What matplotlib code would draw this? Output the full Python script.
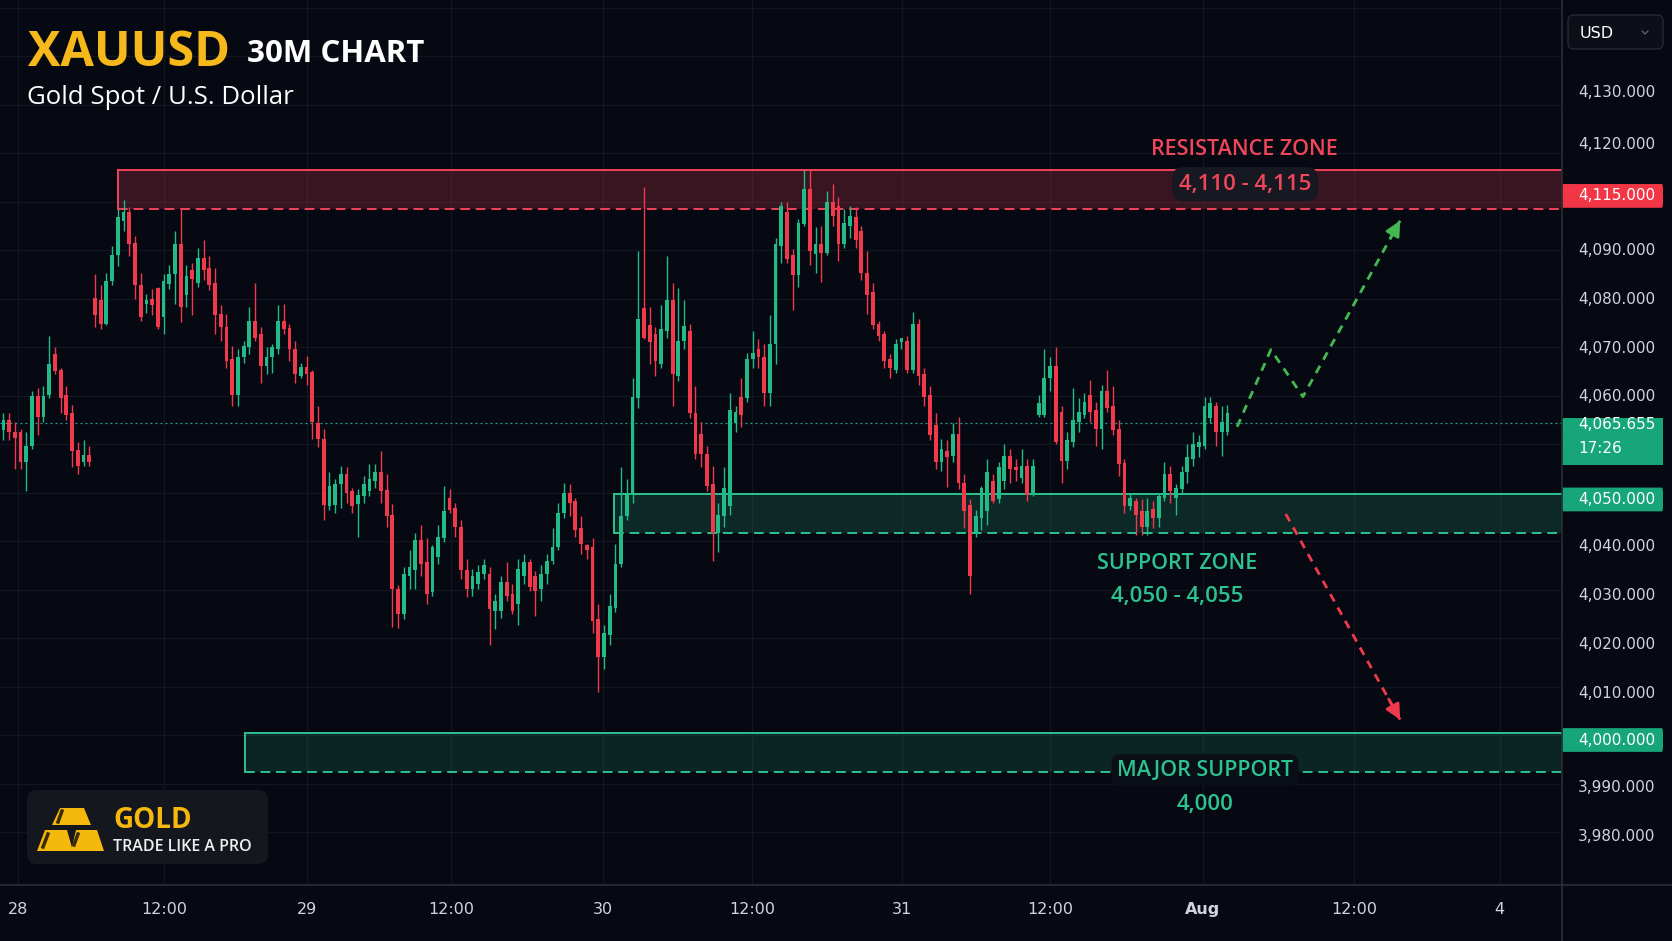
import matplotlib
matplotlib.use("Agg")
import matplotlib.pyplot as plt
from matplotlib.patches import Rectangle, FancyBboxPatch, Polygon

# ---------------- data ----------------
opens = [4063.9, 4065.9, 4063.5, 4063.5, 4057.3, 4060.7, 4070.9, 4066.7, 4071.2, 4079.6, 4076.4, 4071.2, 4067.4, 4059.9, 4057.3, 4058.7,
         4091.1, 4090.7, 4085.8, 4094.6, 4100.1, 4107.0, 4108.8, 4102.5, 4093.9, 4090.0, 4091.0, 4093.2, 4087.2, 4094.0, 4096.0, 4102.2,
         4091.7, 4097.0, 4094.2, 4099.4, 4097.3, 4094.2, 4087.9, 4085.1, 4078.5, 4071.2, 4079.0, 4081.0, 4086.4, 4083.7, 4077.1, 4078.9,
         4080.6, 4086.5, 4084.9, 4080.6, 4075.0, 4076.9, 4075.9, 4065.3, 4062.1, 4048.2, 4048.5, 4052.7, 4054.8, 4051.3, 4048.6, 4050.3,
         4051.3, 4053.4, 4055.2, 4051.6, 4046.5, 4031.1, 4025.9, 4033.9, 4035.0, 4041.2, 4036.7, 4030.5, 4037.7, 4041.6, 4050.0, 4047.9,
         4044.0, 4035.0, 4031.1, 4032.2, 4034.2, 4034.2, 4026.6, 4026.6, 4032.5, 4030.1, 4028.0, 4033.9, 4036.7, 4033.9, 4031.1, 4034.2,
         4037.0, 4039.8, 4046.8, 4051.0, 4049.2, 4043.7, 4040.2, 4039.8, 4024.9, 4017.2, 4021.7, 4027.3, 4036.3, 4046.1, 4050.6, 4070.5,
         4089.0, 4085.5, 4083.7, 4077.5, 4084.4, 4090.7, 4075.0, 4082.3, 4084.4, 4067.4, 4063.2, 4059.0, 4052.7, 4042.6, 4046.1, 4048.2,
         4065.3, 4070.8, 4070.5, 4078.5, 4080.6, 4078.9, 4071.5, 4081.6, 4101.8, 4108.8, 4100.0, 4095.9, 4106.4, 4113.7, 4100.2, 4102.2,
         4100.5, 4110.9, 4110.2, 4102.2, 4106.0, 4107.8, 4105.0, 4096.3, 4092.4, 4085.8, 4083.7, 4078.5, 4076.4, 4082.0, 4082.3, 4076.4,
         4085.8, 4075.4, 4071.2, 4064.9, 4057.3, 4059.7, 4058.6, 4063.2, 4053.1, 4048.5, 4042.9, 4045.8, 4047.2, 4053.4, 4049.6, 4053.4,
         4058.6, 4056.4, 4054.1, 4056.6, 4050.6, 4067.0, 4067.0, 4074.7, 4077.1, 4067.7, 4057.6, 4061.4, 4065.6, 4067.0, 4071.2, 4068.0,
         4064.2, 4071.9, 4068.8, 4064.2, 4057.2, 4048.2, 4049.2, 4047.2, 4044.0, 4047.6, 4045.7, 4050.0, 4054.8, 4049.9, 4051.7, 4055.2,
         4058.0, 4060.4, 4060.7, 4066.3, 4068.8, 4063.5, 4063.5]
highs = [4067.4, 4067.4, 4065.6, 4064.2, 4063.5, 4071.9, 4072.6, 4073.0, 4083.4, 4081.0, 4076.8, 4073.0, 4069.1, 4061.5, 4061.8, 4060.7,
         4096.0, 4093.9, 4096.3, 4101.9, 4109.5, 4111.3, 4109.9, 4104.0, 4096.3, 4092.0, 4093.0, 4093.5, 4096.0, 4098.0, 4105.0, 4109.5,
         4098.0, 4098.4, 4101.5, 4103.2, 4099.8, 4097.3, 4089.7, 4087.9, 4081.3, 4080.6, 4082.3, 4089.3, 4094.2, 4085.1, 4081.0, 4081.6,
         4089.7, 4090.0, 4085.8, 4082.3, 4077.8, 4079.2, 4076.4, 4068.8, 4064.2, 4055.2, 4053.8, 4056.6, 4056.2, 4052.0, 4051.7, 4054.5,
         4056.9, 4056.9, 4059.5, 4054.8, 4048.6, 4032.0, 4035.7, 4039.1, 4042.6, 4044.4, 4041.6, 4040.2, 4044.4, 4052.4, 4051.7, 4048.9,
         4045.4, 4037.4, 4035.3, 4036.0, 4037.4, 4035.6, 4030.1, 4033.9, 4036.7, 4032.2, 4037.4, 4038.4, 4037.4, 4034.9, 4036.0, 4038.4,
         4043.7, 4048.9, 4053.1, 4052.7, 4050.0, 4046.1, 4040.5, 4041.6, 4028.0, 4023.8, 4030.1, 4040.5, 4056.2, 4053.8, 4074.7, 4100.8,
         4114.0, 4089.3, 4085.1, 4089.7, 4099.8, 4094.2, 4093.2, 4090.7, 4085.8, 4073.0, 4065.6, 4060.7, 4056.6, 4048.9, 4056.2, 4071.5,
         4068.8, 4074.7, 4079.9, 4084.4, 4082.7, 4081.6, 4087.6, 4103.6, 4111.0, 4110.9, 4101.2, 4107.4, 4117.5, 4117.5, 4105.7, 4106.0,
         4113.3, 4114.7, 4111.9, 4109.5, 4110.2, 4109.9, 4106.0, 4100.8, 4094.2, 4086.5, 4084.4, 4079.6, 4082.7, 4083.0, 4083.4, 4088.2,
         4086.9, 4076.8, 4073.0, 4067.4, 4062.1, 4061.8, 4065.3, 4066.7, 4054.8, 4049.6, 4047.5, 4052.4, 4058.0, 4054.8, 4057.3, 4061.1,
         4060.0, 4058.0, 4060.0, 4058.0, 4058.0, 4071.2, 4080.6, 4078.9, 4081.0, 4068.8, 4063.5, 4072.6, 4070.5, 4071.5, 4074.3, 4069.8,
         4073.3, 4076.4, 4073.0, 4066.0, 4058.0, 4051.0, 4050.0, 4049.6, 4050.0, 4049.2, 4051.0, 4057.3, 4056.6, 4052.7, 4056.6, 4061.1,
         4063.5, 4062.8, 4070.8, 4070.8, 4069.8, 4068.8, 4069.1]
lows = [4061.8, 4061.8, 4055.9, 4055.9, 4051.4, 4060.0, 4062.8, 4065.6, 4070.5, 4075.4, 4067.4, 4066.0, 4056.2, 4054.8, 4056.6, 4056.6,
        4085.1, 4084.8, 4085.5, 4093.9, 4097.7, 4105.0, 4099.8, 4091.0, 4086.5, 4088.0, 4087.6, 4084.8, 4083.7, 4093.0, 4090.0, 4086.2,
        4089.3, 4087.6, 4093.5, 4094.9, 4092.8, 4083.7, 4082.3, 4076.8, 4068.8, 4068.8, 4077.8, 4079.6, 4082.3, 4073.6, 4075.4, 4075.7,
        4079.6, 4083.7, 4078.2, 4073.6, 4074.7, 4073.3, 4062.1, 4060.4, 4045.4, 4047.5, 4046.8, 4047.8, 4048.9, 4046.8, 4041.9, 4048.9,
        4050.3, 4052.0, 4048.9, 4044.0, 4023.4, 4023.1, 4024.9, 4031.1, 4031.1, 4033.9, 4028.0, 4029.7, 4036.3, 4040.9, 4046.8, 4041.9,
        4033.2, 4029.4, 4029.7, 4031.1, 4033.2, 4019.6, 4022.8, 4025.2, 4028.7, 4025.9, 4023.8, 4032.2, 4030.8, 4025.6, 4028.7, 4032.2,
        4036.3, 4039.1, 4045.8, 4046.1, 4041.9, 4038.4, 4037.4, 4022.1, 4009.9, 4014.7, 4019.6, 4026.3, 4035.6, 4045.4, 4048.9, 4068.4,
        4082.7, 4077.5, 4075.0, 4076.8, 4083.0, 4068.8, 4074.0, 4080.6, 4066.3, 4058.0, 4056.2, 4051.3, 4037.0, 4038.8, 4044.0, 4046.5,
        4063.5, 4064.6, 4069.8, 4076.8, 4076.8, 4068.8, 4068.8, 4077.5, 4098.4, 4098.4, 4088.6, 4093.5, 4106.0, 4098.0, 4096.3, 4094.5,
        4100.0, 4106.0, 4098.7, 4101.5, 4103.6, 4101.5, 4094.9, 4087.9, 4084.8, 4082.3, 4076.8, 4074.7, 4075.7, 4080.6, 4075.7, 4075.7,
        4073.3, 4068.8, 4061.8, 4055.9, 4055.5, 4052.1, 4057.3, 4051.7, 4043.7, 4030.1, 4041.9, 4043.3, 4044.4, 4048.9, 4048.9, 4051.7,
        4053.1, 4053.4, 4053.1, 4049.2, 4050.3, 4066.7, 4066.7, 4071.9, 4061.1, 4053.1, 4055.9, 4060.4, 4063.5, 4066.3, 4065.6, 4060.7,
        4060.0, 4067.7, 4062.8, 4054.5, 4046.8, 4047.5, 4042.3, 4042.3, 4042.3, 4043.7, 4044.0, 4049.2, 4048.9, 4046.5, 4051.0, 4053.1,
        4056.6, 4058.3, 4060.0, 4065.3, 4060.7, 4058.6, 4062.8]
closes = [4066.0, 4063.5, 4062.2, 4057.3, 4060.7, 4070.9, 4066.7, 4070.9, 4077.5, 4076.1, 4070.5, 4067.0, 4059.7, 4056.6, 4058.8, 4057.4,
          4087.6, 4085.8, 4094.6, 4100.1, 4107.8, 4108.8, 4102.2, 4093.9, 4087.2, 4090.7, 4089.7, 4085.1, 4094.6, 4096.0, 4102.2, 4089.3,
          4095.6, 4095.0, 4099.4, 4097.0, 4093.9, 4087.6, 4085.1, 4078.2, 4071.2, 4078.9, 4081.3, 4086.5, 4082.9, 4077.1, 4078.9, 4081.0,
          4086.5, 4084.8, 4080.6, 4075.4, 4076.9, 4075.5, 4065.6, 4062.1, 4048.5, 4052.4, 4052.7, 4054.8, 4051.0, 4048.2, 4050.6, 4052.7,
          4053.8, 4055.2, 4051.3, 4046.1, 4031.1, 4025.9, 4034.2, 4035.6, 4041.2, 4036.3, 4030.1, 4039.8, 4041.9, 4047.2, 4047.5, 4044.0,
          4035.0, 4031.1, 4033.9, 4034.6, 4036.0, 4027.0, 4028.7, 4032.5, 4029.7, 4026.6, 4035.3, 4036.7, 4031.5, 4030.8, 4034.2, 4037.0,
          4039.8, 4046.8, 4051.0, 4048.9, 4043.3, 4040.5, 4039.2, 4024.5, 4017.2, 4022.1, 4027.7, 4036.3, 4046.1, 4050.6, 4070.8, 4086.9,
          4083.0, 4082.0, 4078.2, 4084.8, 4090.7, 4075.4, 4082.3, 4085.3, 4067.4, 4059.0, 4059.0, 4052.4, 4042.6, 4046.5, 4052.0, 4068.1,
          4067.7, 4067.0, 4078.5, 4079.9, 4078.9, 4071.5, 4081.6, 4102.2, 4110.2, 4099.1, 4095.9, 4106.7, 4113.7, 4100.8, 4102.2, 4100.5,
          4110.9, 4108.1, 4102.2, 4106.7, 4108.1, 4103.2, 4096.3, 4091.8, 4085.5, 4083.4, 4078.2, 4076.8, 4081.6, 4082.9, 4076.4, 4085.8,
          4075.0, 4070.8, 4062.8, 4057.3, 4060.0, 4058.3, 4063.2, 4053.1, 4047.2, 4033.9, 4046.1, 4052.0, 4055.2, 4049.2, 4056.2, 4058.6,
          4055.9, 4055.7, 4056.6, 4050.6, 4056.6, 4069.4, 4074.7, 4077.1, 4061.4, 4057.6, 4061.8, 4066.0, 4067.7, 4069.8, 4067.7, 4064.2,
          4071.9, 4068.4, 4063.9, 4056.9, 4048.2, 4050.0, 4046.5, 4044.0, 4047.2, 4045.7, 4050.3, 4054.8, 4051.3, 4052.0, 4055.2, 4058.3,
          4061.1, 4061.4, 4068.8, 4069.4, 4063.5, 4065.6, 4067.4]

time_tick_pos = [2.55, 28.1, 53.1, 78.3, 104.8, 130.9, 157.1, 183.0, 209.7, 236.1, 261.6]
time_tick_labels = ["28", "12:00", "29", "12:00", "30", "12:00", "31", "12:00", "Aug", "12:00", "4"]

price_tick_pos = [4133.6, 4122.9, 4101.0, 4090.9, 4080.8, 4070.9, 4040.0, 4029.7, 4019.6, 4009.5, 3990.3, 3980.0]
price_tick_labels = ["4,130.000", "4,120.000", "4,090.000", "4,080.000", "4,070.000", "4,060.000",
                     "4,040.000", "4,030.000", "4,020.000", "4,010.000", "3,990.000", "3,980.000"]

resistance_zone = (4109.6, 4117.5)
support_zone = (4042.7, 4050.7)
major_support_zone = (3993.3, 4001.4)
resistance_start, support_start, major_start = 20.1, 106.8, 42.2

price_flags = ["4,115.000", "4,050.000", "4,000.000"]
price_flag_levels = [4112.2, 4049.6, 4000.0]
last_price = 4065.4
last_price_label = "4,065.655"
countdown_label = "17:26"

bull_path_x = [215.7, 221.6, 227.2, 244.2]
bull_path_y = [4064.6, 4080.5, 4070.8, 4107.1]
bear_path_x = [224.2, 244.2]
bear_path_y = [4046.6, 4004.2]

# ---------------- styling ----------------
W, H, DPI = 1672, 941, 100
BG = "#060912"
UP = "#22bb87"
DOWN = "#f0394b"
RED = "#f2435a"
GREEN = "#2cc38f"
TXT = "#d1d4dc"
GRID = "#121620"
AX_R, AX_B = 1562, 885
XL = (-0.6, 272.5)
YL = (3970.1, 4152.6)
SANS = ["Open Sans", "DejaVu Sans"]

fig = plt.figure(figsize=(W / DPI, H / DPI), dpi=DPI, facecolor=BG)

ax = fig.add_axes([0, 1 - AX_B / H, AX_R / W, AX_B / H])
ax.set_facecolor(BG)
ax.set_xlim(*XL)
ax.set_ylim(*YL)
ax.set_yticks([])
for s in ("top", "right", "left"):
    ax.spines[s].set_visible(False)
ax.spines["bottom"].set_color("#2a2e39")
ax.spines["bottom"].set_linewidth(1.2)

# grid
for k in range(18):
    ax.axhline(3981 + 10 * k, color=GRID, lw=0.9, zorder=0)
for xv in time_tick_pos:
    ax.axvline(xv, color=GRID, lw=0.9, zorder=0)

# zones
def zone(x0, lo, hi, col, alpha):
    ax.add_patch(Rectangle((x0, lo), XL[1] - x0, hi - lo, facecolor=col, alpha=alpha,
                           edgecolor="none", zorder=1))
    ax.plot([x0, XL[1]], [hi, hi], color=col, lw=1.4, zorder=2)
    ax.plot([x0, XL[1]], [lo, lo], color=col, lw=1.4, ls=(0, (5, 3)), zorder=2)
    ax.plot([x0, x0], [lo, hi], color=col, lw=1.4, zorder=2)

zone(resistance_start, *resistance_zone, RED, 0.22)
zone(support_start, *support_zone, GREEN, 0.17)
zone(major_start, *major_support_zone, GREEN, 0.15)

# last price line
ax.axhline(last_price, color="#26a69a", lw=0.9, ls=(0, (1.5, 2.5)), zorder=2)

# candles
xs = list(range(len(opens)))
for x, o, h, l, c in zip(xs, opens, highs, lows, closes):
    col = UP if c >= o else DOWN
    ax.vlines(x, l, h, color=col, lw=1.0, zorder=3)
    ax.bar(x, max(abs(c - o), 0.4), bottom=min(o, c), width=0.66, color=col,
           edgecolor="none", zorder=4)

# projections
ax.plot(bull_path_x, bull_path_y, color="#45b854", lw=2.0, ls=(0, (3, 2.5)), zorder=6)
ax.annotate("", xy=(bull_path_x[-1], bull_path_y[-1]),
            xytext=(bull_path_x[-2] + 0.9 * (bull_path_x[-1] - bull_path_x[-2]),
                    bull_path_y[-2] + 0.9 * (bull_path_y[-1] - bull_path_y[-2])),
            arrowprops=dict(arrowstyle="-|>,head_length=0.9,head_width=0.45", color="#45b854",
                            lw=2, shrinkA=0, shrinkB=0), zorder=7)
ax.plot(bear_path_x, bear_path_y, color="#f03a4c", lw=2.0, ls=(0, (3, 2.5)), zorder=6)
ax.annotate("", xy=(bear_path_x[-1], bear_path_y[-1]),
            xytext=(bear_path_x[0] + 0.9 * (bear_path_x[-1] - bear_path_x[0]),
                    bear_path_y[0] + 0.9 * (bear_path_y[-1] - bear_path_y[0])),
            arrowprops=dict(arrowstyle="-|>,head_length=0.9,head_width=0.45", color="#f03a4c",
                            lw=2, shrinkA=0, shrinkB=0), zorder=7)

# zone labels
ax.text(216.9, 4121.8, "RESISTANCE ZONE", color="#f0465a", fontsize=15.5, fontweight="semibold",
        family=SANS, ha="center", va="center", zorder=8)
ax.text(217.1, 4114.6, "4,110 - 4,115", color="#f0465a", fontsize=16, fontweight="semibold",
        family=SANS, ha="center", va="center", zorder=8,
        bbox=dict(boxstyle="round,pad=0.3,rounding_size=0.5", facecolor="#161921", edgecolor="none"))
ax.text(205.2, 4036.3, "SUPPORT ZONE", color=GREEN, fontsize=15.5, fontweight="semibold",
        family=SANS, ha="center", va="center", zorder=8)
ax.text(205.2, 4029.5, "4,050 - 4,055", color=GREEN, fontsize=16, fontweight="semibold",
        family=SANS, ha="center", va="center", zorder=8)
ax.text(210.1, 3993.8, "MAJOR SUPPORT", color=GREEN, fontsize=15.5, fontweight="semibold",
        family=SANS, ha="center", va="center", zorder=8,
        bbox=dict(boxstyle="round,pad=0.25,rounding_size=0.4", facecolor="#0a0e16", edgecolor="none"))
ax.text(210.1, 3986.8, "4,000", color=GREEN, fontsize=16, fontweight="semibold",
        family=SANS, ha="center", va="center", zorder=8)

# time axis
ax.set_xticks(time_tick_pos)
ax.set_xticklabels(time_tick_labels)
ax.tick_params(axis="x", length=0, pad=12, colors=TXT, labelsize=11.5)
for lab in ax.get_xticklabels():
    lab.set_family("DejaVu Sans")
    if lab.get_text() == "Aug":
        lab.set_fontweight("bold")

# right price scale
axr = fig.add_axes([AX_R / W, 1 - AX_B / H, 1 - AX_R / W, AX_B / H])
axr.set_facecolor(BG)
axr.set_xlim(0, W - AX_R)
axr.set_ylim(*YL)
axr.axis("off")
for p, t in zip(price_tick_pos, price_tick_labels):
    axr.text(16, p, t, color=TXT, fontsize=11, family="DejaVu Sans", ha="left", va="center")
flag_colors = ["#f23645", "#17a57a", "#17a57a"]
for t, p, c in zip(price_flags, price_flag_levels, flag_colors):
    axr.add_patch(FancyBboxPatch((0, p - 2.45), 101, 4.9, boxstyle="round,pad=0,rounding_size=1.2",
                                 mutation_aspect=1, facecolor=c, edgecolor="none"))
    axr.text(16, p, t, color="white", fontsize=11, family="DejaVu Sans", ha="left", va="center")
axr.add_patch(Rectangle((0, last_price - 8.6), 101, 9.6, facecolor="#17a57a", edgecolor="none"))
axr.text(16, last_price - 0.3, last_price_label, color="white", fontsize=11, family="DejaVu Sans",
         ha="left", va="center")
axr.text(16, last_price - 5.2, countdown_label, color="white", fontsize=11, family="DejaVu Sans",
         ha="left", va="center")

# ---------------- overlay in pixel coordinates ----------------
ov = fig.add_axes([0, 0, 1, 1], zorder=10)
ov.set_xlim(0, W)
ov.set_ylim(H, 0)
ov.axis("off")
ov.patch.set_alpha(0)

ov.plot([AX_R, AX_R], [0, H], color="#2a2e39", lw=1.2)
ov.plot([AX_R, W], [AX_B, AX_B], color="#2a2e39", lw=1.2)

# USD box
ov.add_patch(FancyBboxPatch((1568, 15), 95, 34, boxstyle="round,pad=0,rounding_size=6",
                            facecolor="#0c0f17", edgecolor="#262a35", lw=1))
ov.text(1580, 33, "USD", color="white", fontsize=11.5, family="DejaVu Sans", ha="left", va="center")
ov.plot([1642, 1645, 1648], [31, 34, 31], color="#6b6f7a", lw=0.8)

# titles
ov.text(28, 66, "XAUUSD", color="#f6b81a", fontsize=35, fontweight="bold", family=SANS,
        ha="left", va="baseline")
ov.text(247, 62, "30M CHART", color="white", fontsize=22.5, fontweight="bold", family=SANS,
        ha="left", va="baseline")
ov.text(27, 104, "Gold Spot / U.S. Dollar", color="white", fontsize=18.5, family=SANS,
        ha="left", va="baseline")

# logo card
ov.add_patch(FancyBboxPatch((27, 790), 241, 74, boxstyle="round,pad=0,rounding_size=10",
                            facecolor="#15171f", edgecolor="none"))
gold = "#f5b80c"
ov.add_patch(Polygon([(52, 825), (91, 825), (84, 808), (60, 808)], closed=True, facecolor=gold))
ov.add_patch(Polygon([(37, 851), (73, 851), (67, 830), (45, 830)], closed=True, facecolor=gold))
ov.add_patch(Polygon([(71, 851), (104, 851), (97, 830), (76, 830)], closed=True, facecolor=gold))
for seg in ([(62, 811), (58, 822)], [(48, 834), (43, 847)], [(78, 834), (74, 845)]):
    ov.plot([seg[0][0], seg[1][0]], [seg[0][1], seg[1][1]], color="#3b2b00", lw=2.5)
ov.text(113, 828, "GOLD", color=gold, fontsize=20, fontweight="bold", family=SANS,
        ha="left", va="baseline")
ov.text(113, 851, "TRADE LIKE A PRO", color="#f0f0f0", fontsize=11.5, fontweight="semibold",
        family=SANS, ha="left", va="baseline")

fig.savefig("out.png", dpi=DPI, facecolor=BG)
